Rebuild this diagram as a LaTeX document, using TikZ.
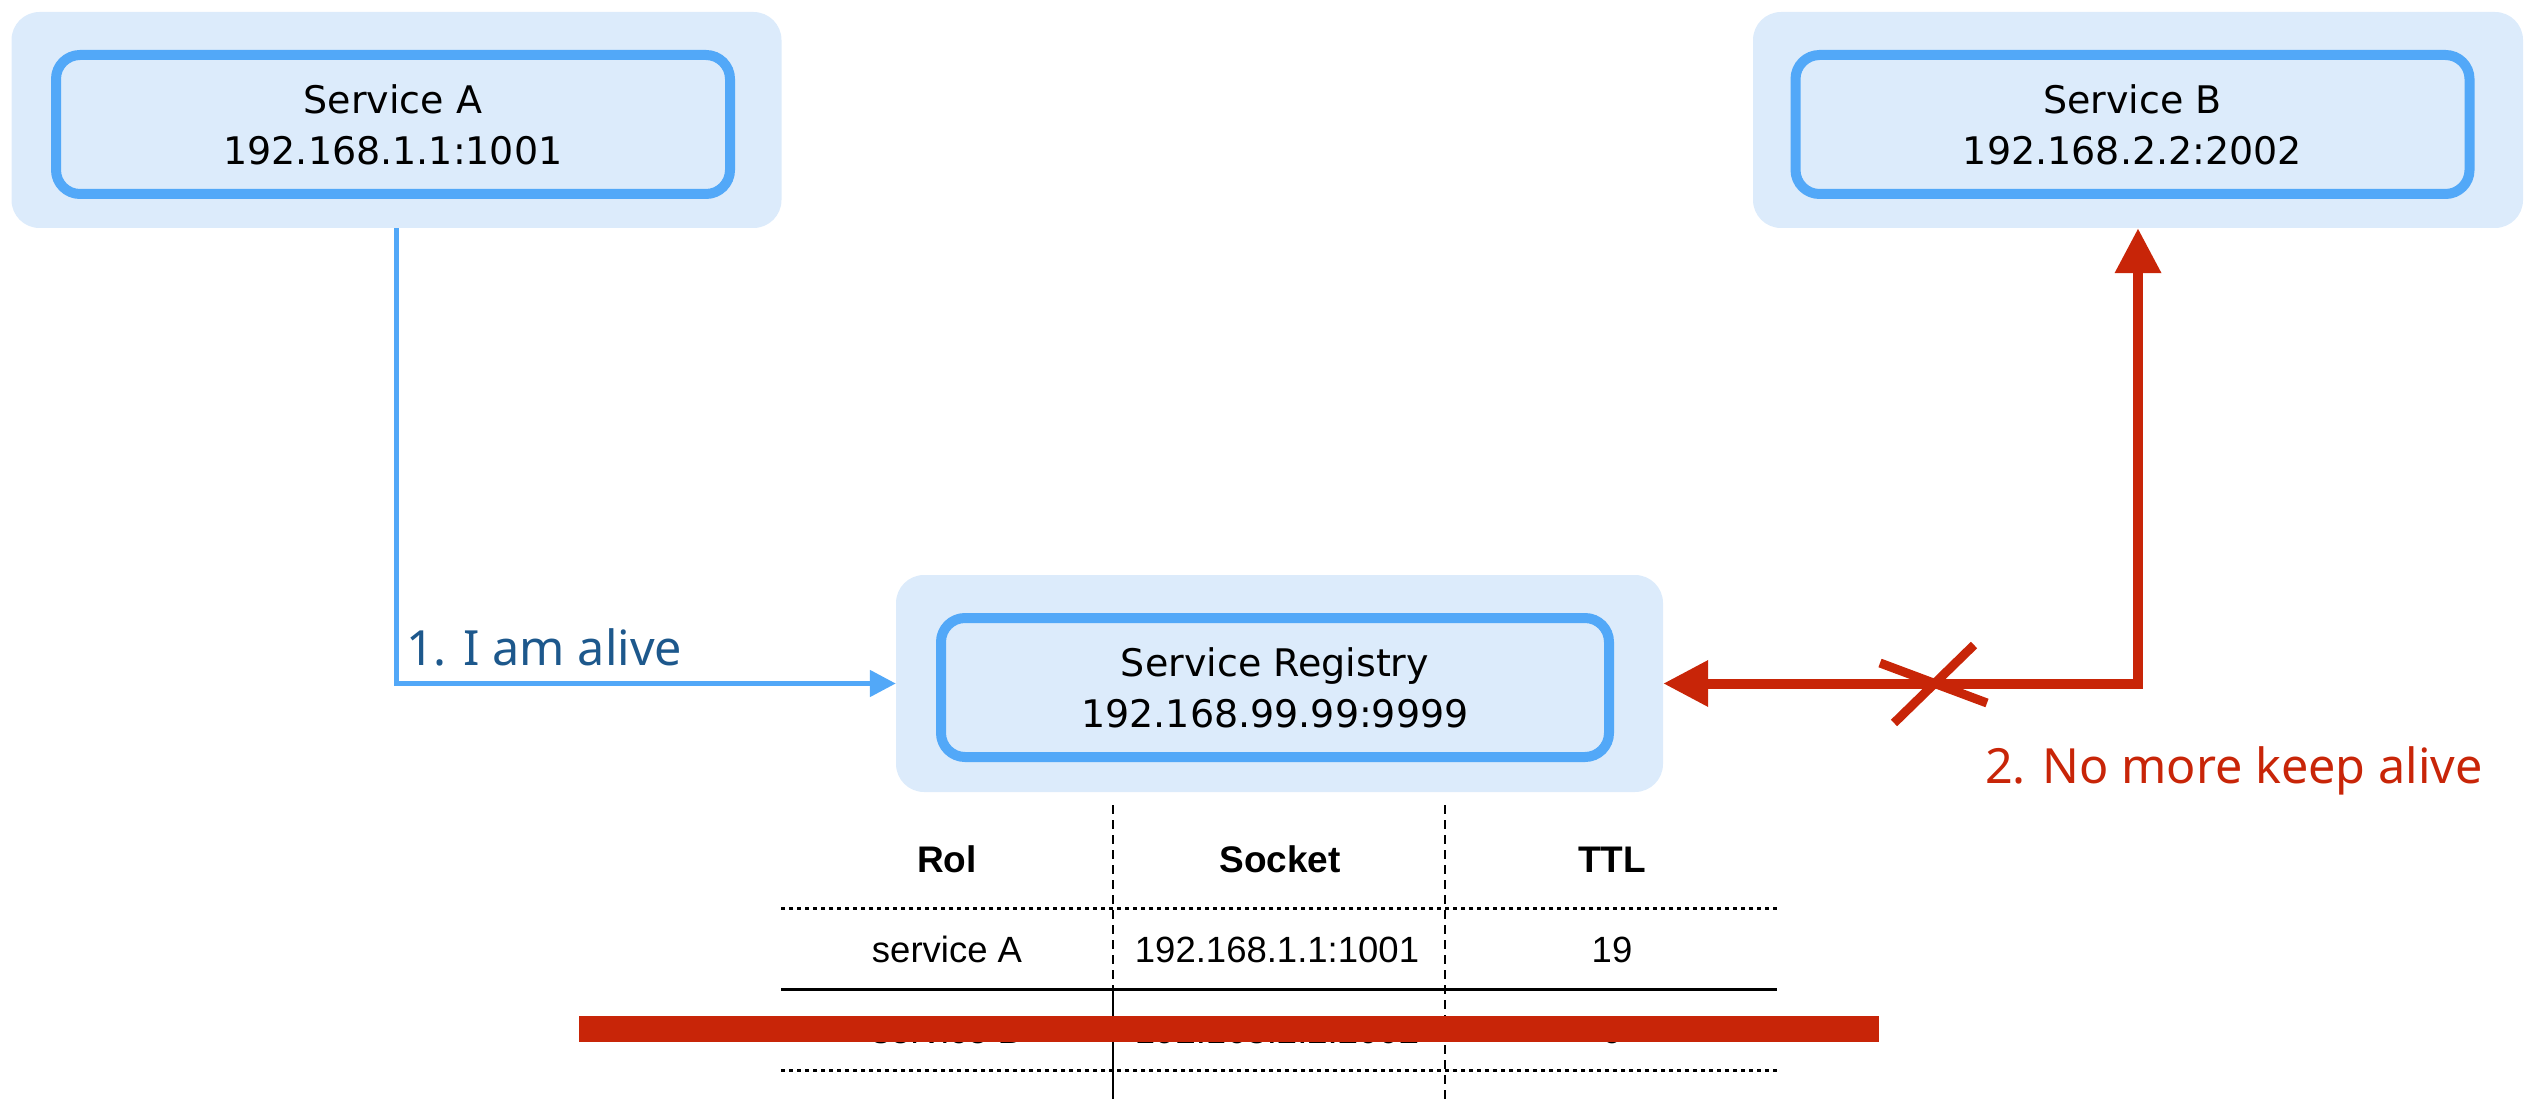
\documentclass[tikz,border=0pt]{standalone}
\usepackage{fontspec}
\setmainfont{Liberation Sans}
\newfontfamily\boxfont{DejaVu Sans}
\newfontfamily\labelfont{Noto Sans}
\usetikzlibrary{arrows.meta}
\definecolor{pale}{RGB}{220,235,251}
\definecolor{lblue}{RGB}{82,168,248}
\definecolor{dblue}{RGB}{29,88,140}
\definecolor{dred}{RGB}{200,37,8}
\begin{document}
\begin{tikzpicture}[x=1pt,y=-1pt,
  outerbox/.style={fill=pale, draw=none, rounded corners=28pt, minimum width=770pt, minimum height=216pt, inner sep=0pt},
  innerbox/.style={fill=pale, draw=lblue, line width=10pt, rounded corners=24pt, minimum width=674pt, minimum height=139pt, inner sep=0pt, align=center, font=\boxfont\fontsize{38}{51}\selectfont},
  bluearrow/.style={draw=lblue, line width=5pt, -{Triangle[length=26pt,width=26pt]}},
  redarrow/.style={draw=dred, line width=10pt, {Triangle[length=45pt,width=44pt]}-{Triangle[length=45pt,width=44pt]}},
  crossline/.style={draw=dred, line width=9pt},
  flowlabel/.style={anchor=base west, inner sep=0pt, font=\labelfont\fontsize{48.5}{58}\selectfont},
  headcell/.style={anchor=base, inner sep=0pt, font=\bfseries\fontsize{37}{44}\selectfont},
  cell/.style={anchor=base, inner sep=0pt, font=\fontsize{36.5}{44}\selectfont},
  dotrule/.style={draw=black, line width=3pt, dash pattern=on 4pt off 4pt},
  solidrule/.style={draw=black, line width=3pt},
  colrule/.style={draw=black, line width=2.2pt, dash pattern=on 9pt off 6pt},
  colsolid/.style={draw=black, line width=2.2pt}
]
\useasboundingbox (0,0) rectangle (2537,1099);

% boxes
\node[outerbox] (aout) at (396.5,120) {};
\node[innerbox] (ain) at (393,124.5) {Service A\\192.168.1.1:1001};
\node[outerbox] (bout) at (2138,120) {};
\node[innerbox] (bin) at (2132.5,124.5) {Service B\\192.168.2.2:2002};
\node[outerbox, minimum width=767pt, minimum height=217pt] (rout) at (1279.5,683.5) {};
\node[innerbox, minimum width=668pt] (rin) at (1275,687.5) {Service Registry\\192.168.99.99:9999};

% connectors
\draw[bluearrow] (aout.south) |- (rout.west);
\node[flowlabel, text=dblue] (l1) at (406,665) {1. I am alive};
\draw[redarrow] (rout.east) -| (bout.south);
\coordinate (c1a) at (1880,663);
\coordinate (c1b) at (1987,703);
\coordinate (c2a) at (1974,645);
\coordinate (c2b) at (1894,723);
\draw[crossline] (c1a) -- (c1b);
\draw[crossline] (c2a) -- (c2b);
\node[flowlabel, text=dred] (l2) at (1985,783) {2. No more keep alive};

% table
\coordinate (v1t) at (1113,805);
\coordinate (v1m) at (1113,989);
\coordinate (v1b) at (1113,1099);
\coordinate (v2t) at (1445,805);
\coordinate (v2b) at (1445,1099);
\draw[colrule] (v1t) -- (v1m);
\draw[colsolid] (v1m) -- (v1b);
\draw[colrule] (v2t) -- (v2b);

\node[headcell] (h1) at (947,872) {Rol};
\node[headcell] (h2) at (1280,872) {Socket};
\node[headcell] (h3) at (1612,872) {TTL};

\coordinate (r1l) at (781,908);
\coordinate (r1r) at (1777,908);
\draw[dotrule] (r1l) -- (r1r);

\node[cell] (a1) at (947,962) {service A};
\node[cell] (a2) at (1277,962) {192.168.1.1:1001};
\node[cell] (a3) at (1612,962) {19};

\coordinate (r2l) at (781,989);
\coordinate (r2r) at (1777,989);
\draw[solidrule] (r2l) -- (r2r);

\node[cell] (b1) at (947,1043) {service B};
\node[cell] (b2) at (1277,1043) {192.168.2.2:2002};
\node[cell] (b3) at (1612,1043) {0};

\coordinate (r3l) at (781,1070);
\coordinate (r3r) at (1777,1070);
\draw[dotrule] (r3l) -- (r3r);

\fill[dred] (579,1016) rectangle (1879,1042);
\end{tikzpicture}
\end{document}
